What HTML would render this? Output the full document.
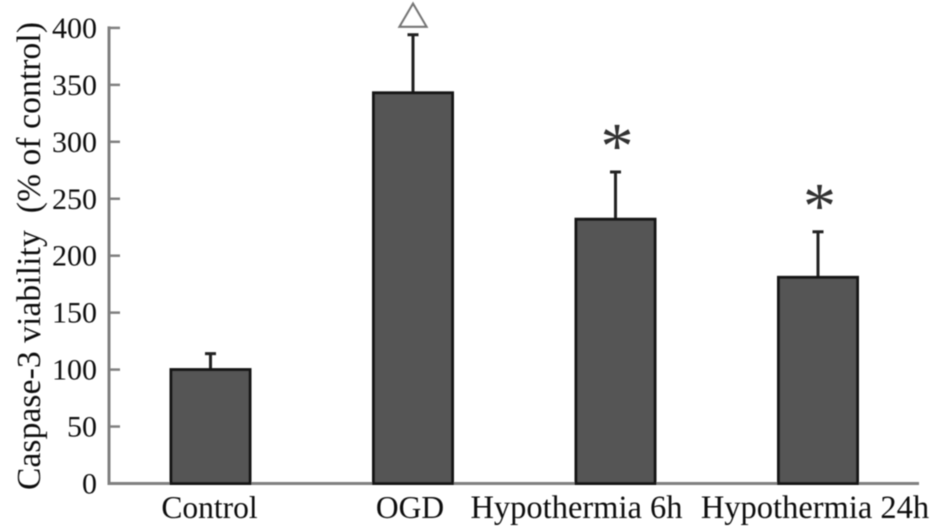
<!DOCTYPE html>
<html lang="en">
<head>
<meta charset="utf-8">
<title>Caspase-3 viability chart</title>
<style>
  html, body { margin: 0; padding: 0; background: #fff; }
  #chart { display: block; width: 945px; height: 528px; }
  text { font-family: "Liberation Serif", serif; fill: #111; white-space: pre; }
</style>
</head>
<body>
<svg id="chart" xmlns="http://www.w3.org/2000/svg" width="945" height="528" viewBox="0 0 945 528">
  <defs><filter id="soft" x="-5%" y="-5%" width="110%" height="110%"><feGaussianBlur stdDeviation="0.45"/></filter></defs>
  <rect x="0" y="0" width="945" height="528" fill="#ffffff"/>
  <g id="plot" filter="url(#soft)"></g>
</svg>
<script>
const categories = ['Control', 'OGD', 'Hypothermia 6h', 'Hypothermia 24h'];
const means = [100, 343, 232, 181];
const errorTops = [114, 394, 273.5, 221];
const significance = ['', 'triangle', 'asterisk', 'asterisk'];
const yTicks = [0, 50, 100, 150, 200, 250, 300, 350, 400];

const NS = 'http://www.w3.org/2000/svg';
const plot = document.getElementById('plot');
const yScale = function (v) { return 483.5 - v * 1.139; };
const xScale = function (i) { return 210.5 + i * 202.5; };
const labelShift = function (i) { return i === 2 ? -39 : (i === 0 ? -1 : -3); };

function make(tag, attrs, parent) {
  const el = document.createElementNS(NS, tag);
  for (const k in attrs) el.setAttribute(k, attrs[k]);
  (parent || plot).appendChild(el);
  return el;
}

const yAxis = make('line', { x1: 109, x2: 109, y1: yScale(400) - 1.5, y2: yScale(0) + 1.5, stroke: '#808080', 'stroke-width': 3 });


const xAxis = make('line', { x1: 108, x2: 919, y1: yScale(0), y2: yScale(0), stroke: '#808080', 'stroke-width': 3 });



yTicks.forEach(function (t) {
  const tick = make('line', { x1: 109, x2: 120, y1: yScale(t), y2: yScale(t), stroke: '#808080', 'stroke-width': 2.5 });
  
  
  const label = make('text', { x: 97, y: yScale(t) + 10, 'text-anchor': 'end', 'font-size': 30 });
  
  
  label.textContent = String(t);
});

categories.forEach(function (name, i) {
  const cx = xScale(i);
  const top = yScale(means[i]);
  const errY = yScale(errorTops[i]);

  const stem = make('line', { x1: cx, x2: cx, y1: errY, y2: top, stroke: '#222', 'stroke-width': 3 });
  
  
  const cap = make('line', { x1: cx - 5.5, x2: cx + 5.5, y1: errY, y2: errY, stroke: '#222', 'stroke-width': 3 });
  
  

  const bar = make('rect', { x: cx - 39.5, y: top, width: 79, height: yScale(0) - top, fill: '#555555', stroke: '#161616', 'stroke-width': 3 });
  
  

  const isLong = name.length > 10;
  const label = make('text', { x: cx + labelShift(i), y: 518, 'text-anchor': 'middle', 'font-size': isLong ? 32.5 : 31.5 });
  
  
  label.textContent = name;

  if (significance[i] === 'triangle') {
    const tri = make('polygon', {
      points: [cx, errY - 31, cx - 13.5, errY - 8, cx + 13.5, errY - 8].join(' '),
      fill: '#fff', stroke: '#777', 'stroke-width': 2.2
    });
    
    
  } else if (significance[i] === 'asterisk') {
    const star = make('text', { x: cx + 1.5, y: errY - 4, 'text-anchor': 'middle', 'font-size': 66, style: 'fill:#333' });
    
    
    star.textContent = '*';
  }
});

const yTitle = make('text', {
  transform: 'translate(40,490) rotate(-90)', x: 0, y: 0,
  'font-size': 33.5, textLength: 468, lengthAdjust: 'spacing'
});


yTitle.textContent = 'Caspase-3 viability  (% of control)';
</script>
</body>
</html>
